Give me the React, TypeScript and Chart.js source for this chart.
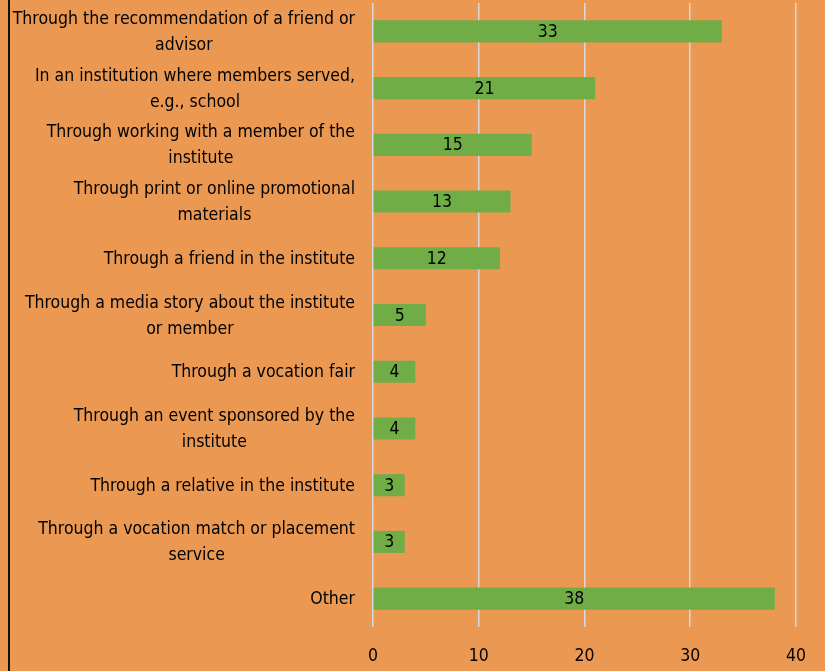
import React, { useEffect, useRef } from "react";
import { Chart, registerables } from "chart.js";

Chart.register(...registerables);

const categories: string[][] = [
  ["Through the recommendation of a friend or", "advisor"],
  ["In an institution where members served,", "e.g., school"],
  ["Through working with a member of the", "institute"],
  ["Through print or online promotional", "materials"],
  ["Through a friend in the institute"],
  ["Through a media story about the institute", "or member"],
  ["Through a vocation fair"],
  ["Through an event sponsored by the", "institute"],
  ["Through a relative in the institute"],
  ["Through a vocation match or placement", "service"],
  ["Other"],
];
const values: number[] = [33, 21, 15, 13, 12, 5, 4, 4, 3, 3, 38];
const xMax = 40;
const xStep = 10;

const FONT_FAMILY = "'Liberation Sans Narrow', 'DejaVu Sans Condensed', sans-serif";
const FONT_SIZE = 17.5;
const BG = "#EB9853";
const BAR = "#70AD47";

const labelPlugin = {
  id: "customLabels",
  afterDatasetsDraw(chart: any) {
    const ctx = chart.ctx;
    const yScale = chart.scales.y;
    const area = chart.chartArea;
    ctx.save();
    ctx.font = `${FONT_SIZE}px ${FONT_FAMILY}`;
    ctx.fillStyle = "#000";
    ctx.textAlign = "center";
    ctx.textBaseline = "middle";
    const rightEdge = area.left - 18;
    const lineH = 26;
    categories.forEach((lines, i) => {
      const yc = yScale.getPixelForValue(i) + 1;
      const widest = Math.max(...lines.map((l) => ctx.measureText(l).width));
      const cx = rightEdge - widest / 2;
      lines.forEach((l, j) => {
        ctx.fillText(l, cx, yc + (j - (lines.length - 1) / 2) * lineH);
      });
    });
    const meta = chart.getDatasetMeta(0);
    meta.data.forEach((bar: any, i: number) => {
      const cx = (bar.base + bar.x) / 2;
      ctx.fillText(String(values[i]), cx, bar.y + 1);
    });
    ctx.restore();
  },
};

export default function App() {
  const ref = useRef<HTMLCanvasElement>(null);
  useEffect(() => {
    if (!ref.current) return;
    const chart = new Chart(ref.current, {
      type: "bar",
      data: {
        labels: categories.map((c) => c.join(" ")),
        datasets: [
          {
            data: values,
            backgroundColor: BAR,
            barPercentage: 0.39,
            categoryPercentage: 1,
          },
        ],
      },
      options: {
        indexAxis: "y",
        animation: false,
        responsive: false,
        maintainAspectRatio: false,
        layout: { padding: { left: 373, right: 28, top: 3, bottom: 0 } },
        plugins: {
          legend: { display: false },
          tooltip: { enabled: false },
        },
        scales: {
          y: { display: false },
          x: {
            min: 0,
            max: xMax,
            border: { display: false },
            grid: { color: "#D9D9D9", lineWidth: 1.5, drawTicks: false },
            afterFit: (scale: any) => {
              scale.height = 44;
            },
            ticks: {
              stepSize: xStep,
              color: "#000",
              padding: 19,
              font: { family: FONT_FAMILY, size: FONT_SIZE },
            },
          },
        },
      },
      plugins: [labelPlugin],
    });
    return () => chart.destroy();
  }, []);
  return (
    <div style={{ position: "fixed", left: 0, top: 0, width: 825, height: 671, background: BG }}>
      <canvas ref={ref} width={825} height={671} style={{ position: "absolute", left: 0, top: 0 }} />
      <div style={{ position: "absolute", left: 8, top: 0, width: 2, height: 671, background: "#111" }} />
    </div>
  );
}
